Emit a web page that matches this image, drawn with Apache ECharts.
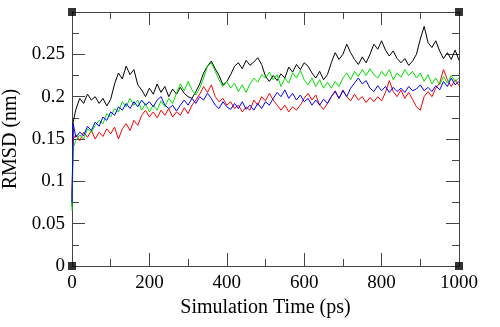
<!DOCTYPE html>
<html>
<head>
<meta charset="utf-8">
<script src="https://cdn.jsdelivr.net/npm/echarts@6/dist/echarts.min.js"></script>
<style>
	html, body { margin: 0; padding: 0; background: #fff; }
	#rmsd { width: 500px; height: 327px; }
</style>
</head>
<body>
<div id="rmsd"></div>
<script>
	'use strict';

	/* time (ps) and RMSD (nm) */
	var times = [0, 3, 10, 20, 30, 40, 50, 60, 70, 80, 90, 100,
		110, 120, 130, 140, 150, 160, 170, 180, 190, 200,
		210, 220, 230, 240, 250, 260, 270, 280, 290, 300,
		310, 320, 330, 340, 350, 360, 370, 380, 390, 400,
		410, 420, 430, 440, 450, 460, 470, 480, 490, 500,
		510, 520, 530, 540, 550, 560, 570, 580, 590, 600,
		610, 620, 630, 640, 650, 660, 670, 680, 690, 700,
		710, 720, 730, 740, 750, 760, 770, 780, 790, 800,
		810, 820, 830, 840, 850, 860, 870, 880, 890, 900,
		910, 920, 930, 940, 950, 960, 970, 980, 990, 1000];

	var blackRmsd = [0.07, 0.17, 0.185, 0.198, 0.192, 0.203, 0.196, 0.2, 0.192, 0.198, 0.189, 0.197,
		0.215, 0.228, 0.221, 0.236, 0.226, 0.232, 0.214, 0.208, 0.2, 0.21,
		0.203, 0.215, 0.205, 0.212, 0.2, 0.209, 0.203, 0.211, 0.204, 0.2,
		0.198, 0.206, 0.215, 0.228, 0.236, 0.242, 0.233, 0.225, 0.214, 0.218,
		0.226, 0.236, 0.24, 0.233, 0.243, 0.237, 0.241, 0.246, 0.238, 0.224,
		0.218, 0.225, 0.219, 0.227, 0.222, 0.235, 0.229, 0.238, 0.232, 0.24,
		0.236, 0.228, 0.222, 0.23, 0.22, 0.226, 0.24, 0.252, 0.244, 0.25,
		0.262, 0.252, 0.244, 0.238, 0.247, 0.24, 0.25, 0.262, 0.256, 0.266,
		0.255, 0.248, 0.254, 0.245, 0.24, 0.245, 0.237, 0.242, 0.25, 0.268,
		0.283, 0.264, 0.258, 0.266, 0.254, 0.245, 0.252, 0.244, 0.255, 0.243];

	var redRmsd = [0.08, 0.15, 0.155, 0.148, 0.158, 0.152, 0.16, 0.15, 0.158, 0.153, 0.162, 0.156,
		0.164, 0.15, 0.162, 0.168, 0.16, 0.172, 0.166, 0.178, 0.184, 0.176,
		0.182, 0.175, 0.184, 0.178, 0.186, 0.176, 0.182, 0.178, 0.187, 0.18,
		0.19, 0.196, 0.203, 0.212, 0.205, 0.214, 0.2, 0.194, 0.198, 0.19,
		0.194, 0.186, 0.19, 0.182, 0.188, 0.184, 0.196, 0.19, 0.2, 0.195,
		0.204, 0.196, 0.19, 0.184, 0.19, 0.182, 0.188, 0.184, 0.19, 0.198,
		0.204, 0.196, 0.202, 0.19, 0.185, 0.192, 0.2, 0.207, 0.198, 0.208,
		0.2, 0.195, 0.203, 0.196, 0.2, 0.193, 0.199, 0.194, 0.2, 0.195,
		0.205, 0.219, 0.206, 0.2, 0.208, 0.198, 0.205, 0.197, 0.188, 0.184,
		0.2, 0.206, 0.2, 0.21, 0.216, 0.232, 0.22, 0.212, 0.22, 0.213];

	var greenRmsd = [0.065, 0.14, 0.148, 0.155, 0.15, 0.162, 0.158, 0.166, 0.172, 0.168, 0.18, 0.176,
		0.186, 0.182, 0.194, 0.188, 0.198, 0.19, 0.196, 0.184, 0.192, 0.182,
		0.19, 0.184, 0.195, 0.188, 0.198, 0.192, 0.204, 0.215, 0.207, 0.218,
		0.208, 0.202, 0.21, 0.222, 0.236, 0.24, 0.23, 0.22, 0.212, 0.218,
		0.21, 0.216, 0.206, 0.214, 0.205, 0.215, 0.222, 0.217, 0.226, 0.222,
		0.229, 0.22, 0.226, 0.212, 0.222, 0.216, 0.228, 0.222, 0.231, 0.22,
		0.214, 0.222, 0.212, 0.22, 0.21, 0.217, 0.21, 0.218, 0.212, 0.222,
		0.228, 0.22, 0.23, 0.224, 0.232, 0.225, 0.233, 0.226, 0.222, 0.23,
		0.224, 0.232, 0.22, 0.228, 0.223, 0.232, 0.225, 0.23, 0.222, 0.228,
		0.218, 0.226, 0.215, 0.222, 0.214, 0.224, 0.216, 0.225, 0.218, 0.222];

	var blueRmsd = [0.075, 0.168, 0.152, 0.158, 0.154, 0.165, 0.16, 0.17, 0.165, 0.176, 0.172, 0.182,
		0.178, 0.188, 0.184, 0.192, 0.186, 0.194, 0.188, 0.196, 0.19, 0.194,
		0.188, 0.196, 0.2, 0.19, 0.186, 0.19, 0.183, 0.19, 0.196, 0.19,
		0.198, 0.192, 0.2, 0.196, 0.204, 0.198, 0.19, 0.186, 0.194, 0.188,
		0.185, 0.192, 0.186, 0.194, 0.185, 0.19, 0.184, 0.192, 0.186, 0.194,
		0.19, 0.198, 0.205, 0.2, 0.208, 0.198, 0.204, 0.196, 0.202, 0.194,
		0.198, 0.19, 0.196, 0.19, 0.197, 0.192, 0.2, 0.206, 0.198, 0.207,
		0.2, 0.21, 0.216, 0.222, 0.215, 0.219, 0.21, 0.206, 0.213, 0.207,
		0.212, 0.205, 0.211, 0.206, 0.21, 0.205, 0.212, 0.207, 0.209, 0.214,
		0.207, 0.211, 0.206, 0.213, 0.208, 0.218, 0.212, 0.222, 0.214, 0.218];

	var xTicks = [0, 200, 400, 600, 800, 1000];
	var yTicks = [0, 0.05, 0.1, 0.15, 0.2, 0.25];

	function pairs(vals) {
		return times.map(function(t, i) { return [t, vals[i]]; });
	}

	var font = 'Liberation Serif';
	var frame = '#444';

	function frameAxis(extra) {
		var a = {
			type: 'value',
			axisLine: { show: true, onZero: false, lineStyle: { color: frame, width: 1 } },
			axisTick: { show: true, inside: true, length: 13, lineStyle: { color: frame } },
			minorTick: { show: true, splitNumber: 2, length: 7, lineStyle: { color: frame } },
			splitLine: { show: false },
			axisLabel: { show: false }
		};
		return Object.assign(a, extra);
	}

	var lineSeries = function(name, vals, color) {
		return {
			name: name,
			type: 'line',
			data: pairs(vals),
			showSymbol: false,
			symbol: 'none',
			lineStyle: { width: 1, color: color },
			animation: false
		};
	};

	var option = {
		animation: false,
		grid: { left: 72, right: 41, top: 12, bottom: 61, containLabel: false, outerBoundsMode: 'none' },
		xAxis: [
			frameAxis({
				position: 'bottom', min: xTicks[0], max: xTicks[xTicks.length - 1], interval: 200,
				name: 'Simulation Time (ps)', nameLocation: 'middle', nameGap: 28,
				nameTextStyle: { fontFamily: font, fontSize: 20, color: '#000' },
				axisLabel: {
					show: true, margin: 8, fontFamily: font, fontSize: 19, color: '#000',
					formatter: function(v) { return String(v); }
				}
			}),
			frameAxis({ position: 'top', min: 0, max: 1000, interval: 200 })
		],
		yAxis: [
			frameAxis({
				position: 'left', min: yTicks[0], max: 0.3, interval: 0.05,
				name: 'RMSD (nm)', nameLocation: 'middle', nameGap: 45,
				nameTextStyle: { fontFamily: font, fontSize: 20, color: '#000' },
				axisLabel: {
					show: true, margin: 7, fontFamily: font, fontSize: 19, color: '#000', showMaxLabel: false,
					formatter: function(v) { return yTicks.indexOf(+v.toFixed(2)) >= 0 ? String(+v.toFixed(2)) : ''; }
				}
			}),
			frameAxis({ position: 'right', min: 0, max: 0.3, interval: 0.05 })
		],
		series: [
			lineSeries('black', blackRmsd, '#000000'),
			lineSeries('red', redRmsd, '#ff0000'),
			lineSeries('green', greenRmsd, '#00e000'),
			lineSeries('blue', blueRmsd, '#0000ff'),
			{
				type: 'scatter',
				data: [[0, 0], [1000, 0], [0, 0.3], [1000, 0.3]],
				symbol: 'rect',
				symbolSize: 8,
				itemStyle: { color: '#000' },
				clip: false,
				z: 5
			}
		]
	};

	var chart = echarts.init(document.getElementById('rmsd'));
	chart.setOption(option);
</script>
</body>
</html>
